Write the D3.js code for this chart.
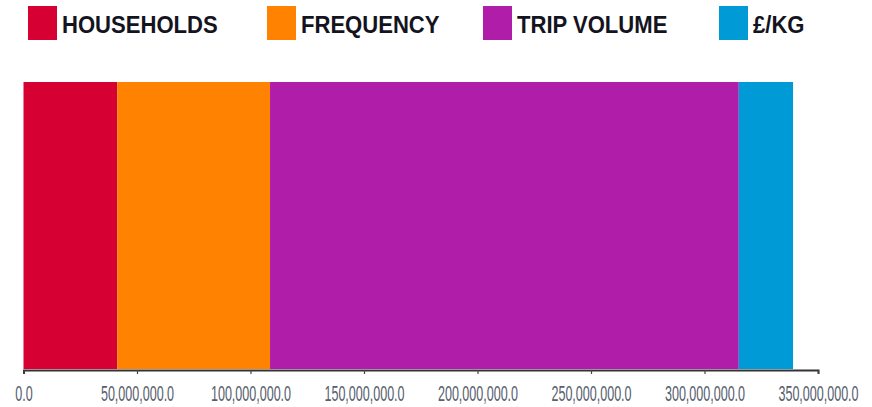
<!DOCTYPE html>
<html>
<head>
<meta charset="utf-8">
<script src="https://cdn.jsdelivr.net/npm/d3@7"></script>
<style>
  html, body { margin: 0; padding: 0; background: #fff; }
  svg { display: block; }
</style>
</head>
<body>
<svg id="chart" width="872" height="407"></svg>
<script>
// Stacked contribution bar: one row split into four drivers
const categories = ["HOUSEHOLDS", "FREQUENCY", "TRIP VOLUME", "£/KG"];
const values = [41300000, 67300000, 206500000, 23900000];
const colors = ["#d70032", "#ff8200", "#b01ea9", "#009ad6"];
const tickValues = [0, 50000000, 100000000, 150000000, 200000000, 250000000, 300000000, 350000000];

const svg = d3.select("#chart");

const x = d3.scaleLinear().domain([0, 350000000]).range([23.5, 818]);
const barTop = 82, barBottom = 369, axisY = 370;

// cumulative segments
let acc = 0;
const segments = values.map((v, i) => {
  const s = { start: acc, end: acc + v, color: colors[i], name: categories[i] };
  acc += v;
  return s;
});

svg.append("g").selectAll("rect")
  .data(segments)
  .join("rect")
  .attr("x", d => x(d.start))
  .attr("width", d => x(d.end) - x(d.start))
  .attr("y", barTop)
  .attr("height", barBottom - barTop)
  .attr("fill", d => d.color);

// bottom axis
const fmt = d3.format(",.1f");
const axis = d3.axisBottom(x)
  .tickValues(tickValues)
  .tickFormat(fmt)
  .tickSize(4)
  .tickSizeOuter(4);

const gAxis = svg.append("g")
  .attr("transform", `translate(0,${axisY})`)
  .call(axis);

gAxis.select(".domain").attr("stroke", "#333").attr("stroke-width", 2);
gAxis.selectAll(".tick line").attr("stroke", "#444").attr("stroke-width", 1.2);
gAxis.selectAll(".tick text")
  .attr("y", 0)
  .attr("dy", 0)
  .attr("fill", "#56606e")
  .attr("font-family", "'Liberation Sans', Arial, sans-serif")
  .attr("font-size", 22)
  .attr("text-anchor", "middle")
  .attr("transform", "translate(0,31) scale(0.57,1)");

// legend
const legendX = [28, 267, 483, 719];
const legend = svg.append("g").selectAll("g")
  .data(categories)
  .join("g")
  .attr("transform", (d, i) => `translate(${legendX[i]},0)`);

legend.append("rect")
  .attr("x", 0).attr("y", 6)
  .attr("width", 29).attr("height", 34)
  .attr("fill", (d, i) => colors[i]);

legend.append("text")
  .attr("x", 34).attr("y", 33)
  .attr("font-family", "'Liberation Sans', Arial, sans-serif")
  .attr("font-weight", "bold")
  .attr("font-size", 23)
  .attr("fill", "#141420")
  .attr("transform", "translate(34,0) scale(0.96,1) translate(-34,0)")
  .text(d => d);
</script>
</body>
</html>
